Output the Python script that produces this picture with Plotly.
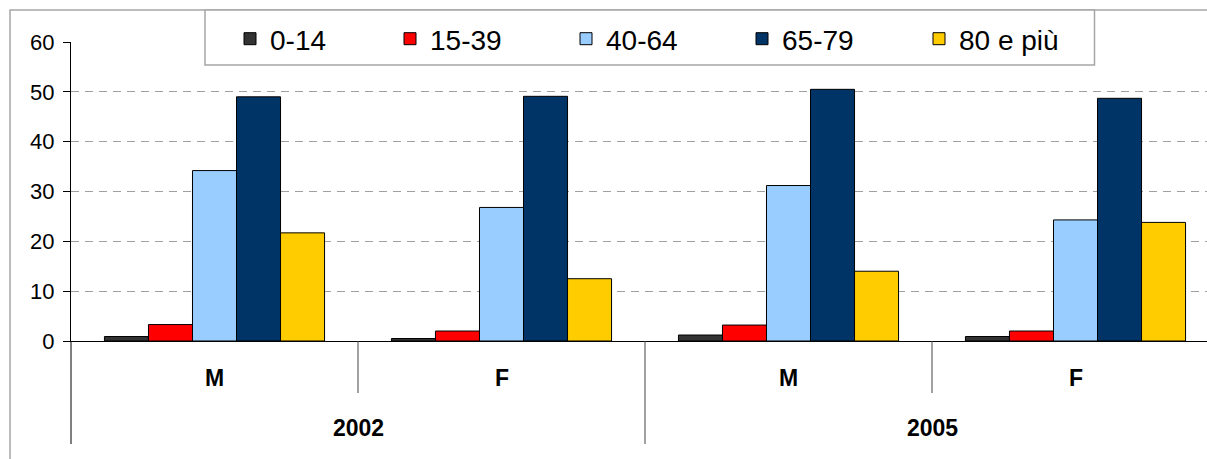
import plotly.graph_objects as go

# Data: mortality-type rates by age class, sex and year
years = ["2002", "2002", "2005", "2005"]
sexes = ["M", "F", "M", "F"]
age_classes = ["0-14", "15-39", "40-64", "65-79", "80 e più"]
colors = ["#333333", "#FF0000", "#99CCFF", "#003366", "#FFCC00"]

v_0_14 = [0.9, 0.5, 1.2, 0.9]
v_15_39 = [3.3, 2.0, 3.2, 2.0]
v_40_64 = [34.2, 26.8, 31.2, 24.3]
v_65_79 = [49.0, 49.1, 50.5, 48.7]
v_80_plus = [21.7, 12.5, 14.0, 23.8]
series = [v_0_14, v_15_39, v_40_64, v_65_79, v_80_plus]

yticks = [0, 10, 20, 30, 40, 50, 60]

# Geometry (pixels)
W, H = 1207, 459
ML, MR, MT, MB = 71, 0, 42, 118
PW, PH = W - ML - MR, H - MT - MB
CAT_PX = 287  # pixel width of one category slot

def px_x(px):
    return (px - ML) / PW

def px_y(py):
    return (H - MB - py) / PH

xpos = list(range(len(sexes)))

fig = go.Figure()
legend_names = ["legend", "legend2", "legend3", "legend4", "legend5"]
for name, vals, col, lg in zip(age_classes, series, colors, legend_names):
    fig.add_trace(go.Bar(
        x=xpos, y=vals, name=name, legend=lg,
        marker=dict(color=col, line=dict(color="#000000", width=1)),
    ))

# Legend entries laid out across the framed box
sym_centers = [250, 410, 586, 762, 939]
legends = {}
for lg, cx in zip(legend_names, sym_centers):
    legends[lg] = dict(
        x=px_x(cx - 20), xanchor="left", y=px_y(39), yanchor="middle",
        bgcolor="rgba(0,0,0,0)", borderwidth=0,
        font=dict(family="Liberation Sans, Arial", size=28, color="#000"),
    )

shapes = []
# outer chart frame
shapes.append(dict(type="rect", xref="paper", yref="paper",
                   x0=px_x(10), x1=1.3, y0=px_y(520), y1=px_y(10),
                   line=dict(color="#A6A6A6", width=1.5), fillcolor="rgba(0,0,0,0)",
                   layer="below"))
# legend frame
shapes.append(dict(type="rect", xref="paper", yref="paper",
                   x0=px_x(205), x1=px_x(1094.5), y0=px_y(65), y1=px_y(10),
                   line=dict(color="#A6A6A6", width=1.5), fillcolor="#FFFFFF",
                   layer="above"))
# y axis continued through the category label area
shapes.append(dict(type="line", xref="paper", yref="paper",
                   x0=0, x1=0, y0=0, y1=px_y(444),
                   line=dict(color="#000000", width=1)))
# category dividers (sex level) and year dividers
n = len(sexes)
for i in range(1, n + 1):
    edge = i - 0.5
    is_year_edge = (i == n) or (years[i] != years[i - 1])
    shapes.append(dict(type="line", xref="x", yref="paper",
                       x0=edge, x1=edge, y0=0,
                       y1=px_y(444) if is_year_edge else px_y(393),
                       line=dict(color="#444444", width=1)))

annotations = []
for i, s in enumerate(sexes):
    annotations.append(dict(x=xpos[i], y=0, xref="x", yref="y", text="<b>%s</b>" % s,
                            showarrow=False, yshift=-37, yanchor="middle",
                            font=dict(family="Liberation Sans, Arial", size=23, color="#000")))
for yr in dict.fromkeys(years):
    idx = [i for i, y in enumerate(years) if y == yr]
    cx = sum(xpos[i] for i in idx) / len(idx)
    annotations.append(dict(x=cx, y=0, xref="x", yref="y", text="<b>%s</b>" % yr,
                            showarrow=False, yshift=-87, yanchor="middle",
                            font=dict(family="Liberation Sans, Arial", size=23, color="#000")))

fig.update_layout(
    width=W, height=H,
    margin=dict(l=ML, r=MR, t=MT, b=MB, pad=0),
    paper_bgcolor="#FFFFFF", plot_bgcolor="#FFFFFF",
    barmode="group", bargap=0.233, bargroupgap=0,
    showlegend=True,
    shapes=shapes, annotations=annotations,
    font=dict(family="Liberation Sans, Arial", color="#000"),
    xaxis=dict(range=[-0.5, -0.5 + PW / CAT_PX], showticklabels=False, ticks="",
               showgrid=False, zeroline=False, showline=True,
               linecolor="#000000", linewidth=1, fixedrange=True),
    yaxis=dict(range=[0, 60], tickvals=yticks, ticks="outside", ticklen=7,
               tickcolor="#000000", showline=True, linecolor="#000000", linewidth=1,
               showgrid=True, gridcolor="#A0A0A0", griddash="8px,6px", gridwidth=1,
               zeroline=False, tickfont=dict(size=22, family="Liberation Sans, Arial"),
               ticklabelstandoff=4),
    **legends,
)

fig.write_html("out.html")
